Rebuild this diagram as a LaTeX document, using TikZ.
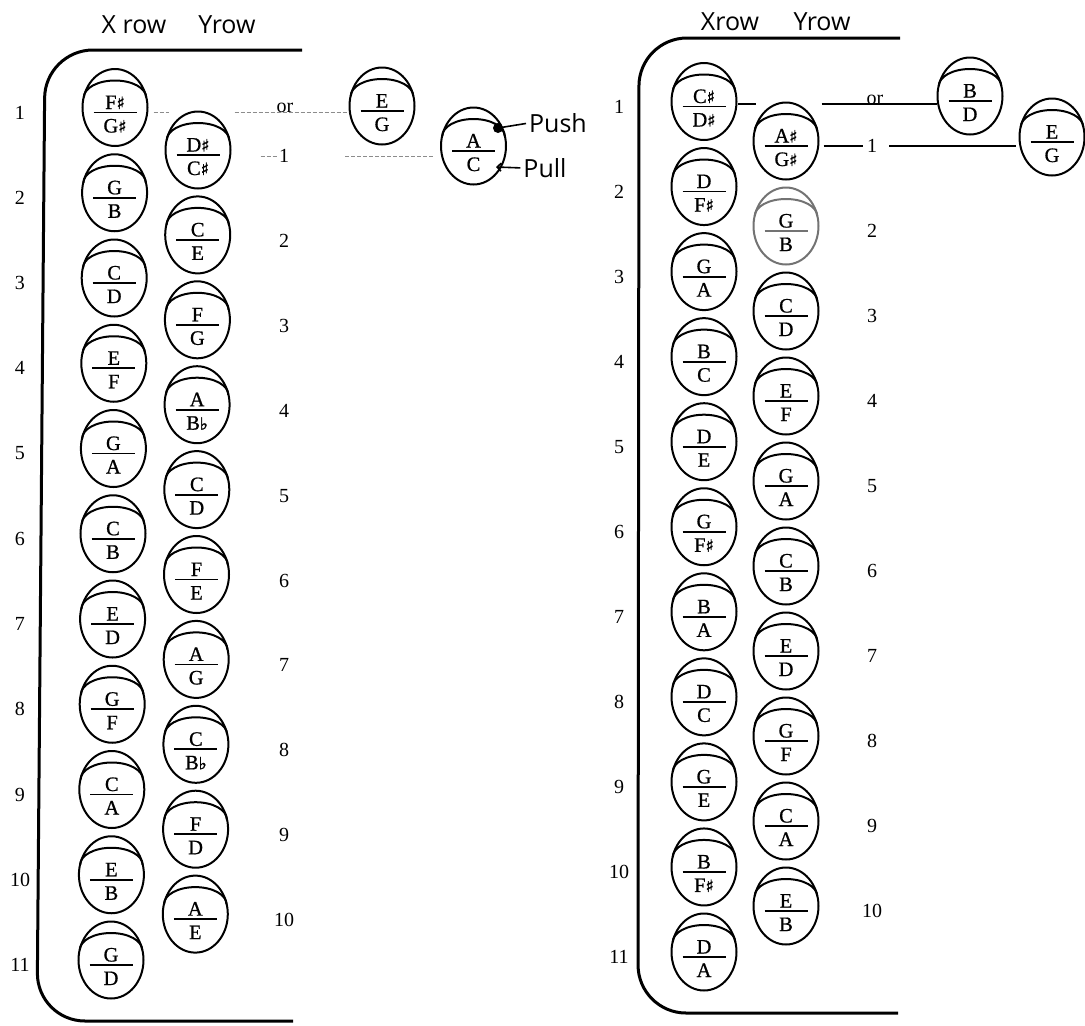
\documentclass[tikz,border=0pt]{standalone}
\usepackage{fontspec}
\setmainfont{Liberation Serif}
\newfontfamily\notefont{Liberation Serif}[FakeBold=0.8]
\newfontfamily\hand{Open Sans}
\newfontfamily\musfont{DejaVu Serif}[FakeBold=1.2]
\usetikzlibrary{shapes.geometric,calc,arrows.meta}
\newcommand\shp{{\musfont\fontsize{17}{17}\selectfont ♯}}
\newcommand\flt{{\musfont\fontsize{17}{17}\selectfont ♭}}
\tikzset{
  btn/.style={ellipse, draw, line width=2pt, minimum width=65pt, minimum height=77pt, inner sep=0pt},
  note/.style={font=\notefont\fontsize{20.5}{20.5}\selectfont, inner sep=0pt, anchor=base},
  rownum/.style={font=\fontsize{20}{20}\selectfont, inner sep=0pt},
  border/.style={line width=3pt, rounded corners=48pt},
  hw/.style={font=\hand\fontsize{25}{25}\selectfont, inner sep=0pt},
  dots/.style={black!45, line width=1pt, dash pattern=on 4pt off 2pt},
  conn/.style={line width=1.2pt},
}
\newcommand\btn[5][black]{%
  \node[btn,#1] (#2) at (#3) {};
  \draw[line width=2pt,#1] ([shift={(-31.2pt,10pt)}]#2.center) arc[start angle=180,end angle=0,x radius=31.2pt,y radius=17pt];
  \draw[line width=1.8pt,#1] ([shift={(-21.5pt,-5pt)}]#2.center) -- ([shift={(21.5pt,-5pt)}]#2.center);
  \node[note] (#2-t) at ([yshift=-1.5pt]#2.center) {#4};
  \node[note] (#2-b) at ([yshift=-25pt]#2.center) {#5};
}
\begin{document}
\begin{tikzpicture}[x=1pt,y=-1pt]
\useasboundingbox (0,0) rectangle (1085,1026);
% ---------- left panel ----------
\draw[border] (302,50) -- (45,50) -- (37,1021) -- (293,1021);
\node[hw] (xrowL) at (134,25) {X row};
\node[hw] (yrowL) at (227,25) {Yrow};
\foreach \nt/\nb [count=\i] in {F\shp/G\shp, G/B, C/D, E/F, G/A, C/B, E/D, G/F, C/A, E/B, G/D}{
  \pgfmathsetmacro\yy{107.5+85.25*(\i-1)}
  \pgfmathsetmacro\xx{115-0.4*(\i-1)}
  \btn{xL\i}{\xx,\yy}{\nt}{\nb}
  \node[rownum] (xLn\i) at (20,\yy+5) {\i};
}
\foreach \nt/\nb [count=\i] in {D\shp/C\shp, C/E, F/G, A/B\flt, C/D, F/E, A/G, C/B\flt, F/D, A/E}{
  \pgfmathsetmacro\yy{150+84.9*(\i-1)}
  \pgfmathsetmacro\xx{198-0.3*(\i-1)}
  \btn{yL\i}{\xx,\yy}{\nt}{\nb}
  \node[rownum] (yLn\i) at (284,\yy+6) {\i};
}
\btn{egL}{382,106}{E}{G}
\btn{ac}{473.5,146}{A}{C}
\node[rownum, anchor=base] (orL) at (285,112) {or};
\draw[dots, shorten <=5pt] (xL1.east |- orL.base) -- ++(20,0);
\draw[dots, shorten <=86pt] (xL1.east |- orL.base) -- (egL.west |- orL.base);
\draw[dots, shorten <=29pt, shorten >=1pt] (yL1.east |- yLn1) -- (yLn1.west);
\draw[dots, shorten <=56pt, shorten >=6pt] (yLn1.east) -- (ac.west |- yLn1);
% push / pull
\node[hw] (push) at (558,123) {Push};
\node[hw] (pull) at (545,168) {Pull};
\coordinate (pushpt) at (498,128);
\coordinate (pullpt) at (496,167);
\fill (pushpt) ellipse [x radius=5pt, y radius=5pt];
\draw[line width=1.6pt, shorten <=3pt] (push.west) -- (pushpt);
\draw[line width=1.6pt, shorten <=3pt, -{Straight Barb[length=4pt,width=8pt]}] (pull.west) -- (pullpt);
% ---------- right panel ----------
\draw[border] (900,38) -- (639,38) -- (638,1013) -- (898,1013);
\node[hw] (xrowR) at (730,22) {Xrow};
\node[hw] (yrowR) at (822,22) {Yrow};
\foreach \nt/\nb [count=\i] in {C\shp/D\shp, D/F\shp, G/A, B/C, D/E, G/F\shp, B/A, D/C, G/E, B/F\shp, D/A}{
  \pgfmathsetmacro\yy{101.5+85.05*(\i-1)}
  \btn{xR\i}{704,\yy}{\nt}{\nb}
  \node[rownum] (xRn\i) at (619,\yy+5) {\i};
}
\foreach \nt/\nb/\cl [count=\i] in {A\shp/G\shp/black, G/B/black!55, C/D/black, E/F/black, G/A/black, C/B/black, E/D/black, G/F/black, C/A/black, E/B/black}{
  \pgfmathsetmacro\yy{141+85*(\i-1)}
  \btn[\cl]{yR\i}{786,\yy}{\nt}{\nb}
  \node[rownum] (yRn\i) at (872,\yy+5) {\i};
}
\btn{bdR}{970,96}{B}{D}
\btn{egR}{1052,137}{E}{G}
\node[rownum, anchor=base] (orR) at (875,104) {or};
\draw[conn] (xR1.east |- orR.base) -- ++(18,0);
\draw[conn, shorten <=84pt] (xR1.east |- orR.base) -- (bdR.west |- orR.base);
\draw[conn, shorten <=4pt, shorten >=4pt] (yR1.east |- yRn1) -- (yRn1.west);
\draw[conn, shorten <=12pt, shorten >=3pt] (yRn1.east) -- (egR.west |- yRn1);
\end{tikzpicture}
\end{document}
